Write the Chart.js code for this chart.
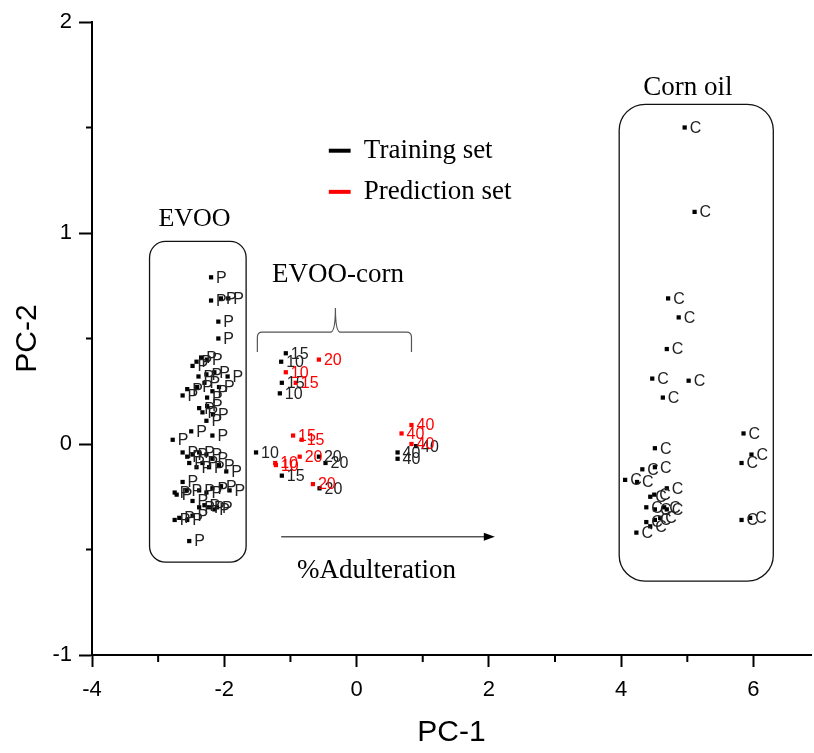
<!DOCTYPE html>
<html><head><meta charset="utf-8">
<script src="https://cdn.jsdelivr.net/npm/chart.js@4"></script>
<style>html,body{margin:0;padding:0;background:#fff}#wrap{width:814px;height:753px}</style>
</head><body><div id="wrap"><canvas id="c" width="814" height="753"></canvas></div>
<script>
// EVOO samples (label "P")
const evooX = [-2.20,-2.20,-2.05,-1.94,-2.09,-2.09,-2.35,-2.42,-2.48,-2.26,-2.39,-2.27,-2.15,-1.95,-2.63,-2.56,-2.41,-2.30,-2.18,-2.08,-2.26,-2.38,-2.33,-2.26,-2.27,-2.17,-2.78,-2.50,-2.18,-2.63,-2.56,-2.48,-2.38,-2.27,-2.18,-2.53,-2.42,-2.33,-2.23,-2.08,-1.97,-2.63,-2.75,-2.72,-2.57,-2.38,-2.27,-2.18,-2.05,-1.92,-2.48,-2.38,-2.30,-2.23,-2.15,-2.11,-2.75,-2.68,-2.56,-2.48,-2.53];
const evooY = [0.79,0.68,0.69,0.69,0.58,0.50,0.41,0.39,0.37,0.40,0.32,0.33,0.34,0.32,0.23,0.26,0.27,0.29,0.25,0.27,0.22,0.17,0.15,0.18,0.11,0.14,0.02,0.06,0.04,-0.04,-0.06,-0.05,-0.04,-0.05,-0.07,-0.09,-0.11,-0.09,-0.11,-0.10,-0.13,-0.18,-0.23,-0.24,-0.22,-0.22,-0.23,-0.21,-0.20,-0.22,-0.27,-0.30,-0.29,-0.30,-0.31,-0.30,-0.36,-0.35,-0.36,-0.34,-0.46];
// Corn oil samples (label "C")
const cornX = [4.96,5.11,4.71,4.87,4.69,4.47,5.02,4.63,4.51,4.32,4.51,4.06,4.24,4.69,4.50,4.44,4.38,4.51,4.65,4.69,4.51,4.38,4.44,4.23,4.59,5.85,5.82,5.97,5.82,5.95];
const cornY = [1.50,1.10,0.69,0.60,0.45,0.31,0.30,0.22,-0.02,-0.12,-0.11,-0.17,-0.18,-0.21,-0.24,-0.25,-0.30,-0.31,-0.30,-0.31,-0.36,-0.37,-0.39,-0.42,-0.35,0.05,-0.09,-0.05,-0.36,-0.35];
// EVOO-corn blends, training set
const trainX = [-1.07,-1.14,-1.13,-1.16,-1.52,-1.13,-0.57,-0.47,-0.56,0.62,0.62,0.90];
const trainY = [0.43,0.39,0.29,0.24,-0.04,-0.15,-0.06,-0.09,-0.21,-0.04,-0.07,-0.01];
const trainLabels = ["15","10","15","10","10","15","20","20","20","40","40","40"];
// EVOO-corn blends, prediction set
const predX = [-0.57,-1.07,-0.92,-0.96,-0.83,-0.86,-1.23,-1.22,-0.66,0.83,0.68,0.83];
const predY = [0.40,0.34,0.29,0.04,0.02,-0.06,-0.09,-0.10,-0.19,0.09,0.05,0.00];
const predLabels = ["20","10","15","15","15","20","10","10","20","40","40","40"];
// Axis ticks
const xTickLabels = [-4,-2,0,2,4,6];
const xMinorTicks = [-3,-1,1,3,5];
const yTickLabels = [-1,0,1,2];
const yMinorTicks = [-0.5,0.5,1.5];

const toPts = (xs, ys) => xs.map((x, i) => ({x, y: ys[i]}));
const SANS = "'Liberation Sans', Arial, sans-serif";
const SERIF = "'Liberation Serif', 'Times New Roman', serif";

const labelPlugin = {
  id: 'ptlabels',
  afterDatasetsDraw(chart) {
    const ctx = chart.ctx;
    ctx.save();
    ctx.font = "16px " + SANS;
    ctx.textBaseline = 'middle';
    ctx.textAlign = 'left';
    chart.data.datasets.forEach((ds, di) => {
      const meta = chart.getDatasetMeta(di);
      ctx.fillStyle = ds.labelColor;
      meta.data.forEach((el, i) => {
        ctx.fillText(ds.pointLabels[i], el.x + 5, el.y + 1);
      });
    });
    ctx.restore();
  }
};

const annoPlugin = {
  id: 'anno',
  afterDraw(chart) {
    const ctx = chart.ctx, xs = chart.scales.x, ys = chart.scales.y;
    const X = v => xs.getPixelForValue(v), Y = v => ys.getPixelForValue(v);
    ctx.save();
    // minor ticks
    ctx.strokeStyle = '#000'; ctx.lineWidth = 2;
    xMinorTicks.forEach(v => { ctx.beginPath(); ctx.moveTo(X(v), chart.chartArea.bottom); ctx.lineTo(X(v), chart.chartArea.bottom + 7); ctx.stroke(); });
    yMinorTicks.forEach(v => { ctx.beginPath(); ctx.moveTo(chart.chartArea.left, Y(v)); ctx.lineTo(chart.chartArea.left - 6, Y(v)); ctx.stroke(); });
    // rounded boxes
    const rbox = (x0, y0, x1, y1, r) => {
      const l = X(x0), rr = X(x1), t = Y(y0), b = Y(y1);
      ctx.beginPath(); ctx.roundRect(l, t, rr - l, b - t, r); ctx.stroke();
    };
    ctx.strokeStyle = '#111'; ctx.lineWidth = 1.3;
    rbox(-3.13, 0.96, -1.67, -0.56, 16);
    rbox(3.97, 1.61, 6.30, -0.65, 26);
    // brace
    ctx.strokeStyle = '#555'; ctx.lineWidth = 1.2;
    const bl = X(-1.50), br = X(0.83), bm = X(-0.32), by = Y(0.53), be = Y(0.436), bt = Y(0.645);
    ctx.beginPath();
    ctx.moveTo(bl, be); ctx.lineTo(bl, by + 5); ctx.quadraticCurveTo(bl, by, bl + 5, by);
    ctx.lineTo(bm - 5, by); ctx.quadraticCurveTo(bm, by, bm, bt);
    ctx.quadraticCurveTo(bm, by, bm + 5, by);
    ctx.lineTo(br - 5, by); ctx.quadraticCurveTo(br, by, br, by + 5); ctx.lineTo(br, be);
    ctx.stroke();
    // arrow
    ctx.strokeStyle = '#000'; ctx.fillStyle = '#000'; ctx.lineWidth = 1;
    const ay = Y(-0.44), ax0 = X(-1.14), ax1 = X(2.09);
    ctx.beginPath(); ctx.moveTo(ax0, ay); ctx.lineTo(ax1 - 8, ay); ctx.stroke();
    ctx.beginPath(); ctx.moveTo(ax1, ay); ctx.lineTo(ax1 - 11, ay - 4); ctx.lineTo(ax1 - 11, ay + 4); ctx.closePath(); ctx.fill();
    // texts
    ctx.textBaseline = 'middle'; ctx.fillStyle = '#000';
    ctx.textAlign = 'center';
    ctx.font = "26px " + SERIF;
    ctx.fillText('EVOO', X(-2.45), Y(1.065));
    ctx.font = "27px " + SERIF;
    ctx.fillText('Corn oil', X(5.01), Y(1.69));
    ctx.fillText('EVOO-corn', X(-0.28), Y(0.80));
    ctx.fillText('%Adulteration', X(0.30), Y(-0.60));
    // legend
    ctx.textAlign = 'left';
    ctx.lineWidth = 4;
    ctx.strokeStyle = '#000'; ctx.beginPath(); ctx.moveTo(X(-0.42), Y(1.39)); ctx.lineTo(X(-0.09), Y(1.39)); ctx.stroke();
    ctx.strokeStyle = '#ff0000'; ctx.beginPath(); ctx.moveTo(X(-0.42), Y(1.195)); ctx.lineTo(X(-0.09), Y(1.195)); ctx.stroke();
    ctx.fillText('Training set', X(0.11), Y(1.39));
    ctx.fillText('Prediction set', X(0.11), Y(1.195));
    ctx.restore();
  }
};

const mk = (label, xs, ys, labels, color, labelColor) => ({
  label, data: toPts(xs, ys), pointLabels: labels, labelColor,
  pointStyle: 'rect', pointRadius: 3, pointHoverRadius: 3,
  backgroundColor: color, borderColor: color, borderWidth: 0
});

new Chart(document.getElementById('c'), {
  type: 'scatter',
  data: { datasets: [
    mk('EVOO', evooX, evooY, evooX.map(() => 'P'), '#000', '#222'),
    mk('Corn oil', cornX, cornY, cornX.map(() => 'C'), '#000', '#222'),
    mk('Training set', trainX, trainY, trainLabels, '#000', '#222'),
    mk('Prediction set', predX, predY, predLabels, '#ff0000', '#ff0000')
  ]},
  options: {
    responsive: false, animation: false, devicePixelRatio: 1,
    layout: { padding: { top: 22, right: 0, left: 0, bottom: 0 } },
    plugins: { legend: { display: false }, tooltip: { enabled: false } },
    scales: {
      x: {
        type: 'linear', min: -4, max: 6.87,
        afterBuildTicks: s => { s.ticks = xTickLabels.map(v => ({value: v})); },
        afterFit: s => { s.height = 98; },
        grid: { drawOnChartArea: false, tickLength: 12, tickWidth: 2, tickColor: '#000' },
        border: { color: '#000', width: 2 },
        ticks: { color: '#000', font: { size: 22, family: SANS }, padding: 10, maxRotation: 0, autoSkip: false },
        title: { display: true, text: 'PC-1', color: '#000', font: { size: 30, family: SANS }, padding: { top: 0, bottom: 2 } }
      },
      y: {
        type: 'linear', min: -1, max: 2,
        afterBuildTicks: s => { s.ticks = yTickLabels.map(v => ({value: v})); },
        afterFit: s => { s.width = 92; },
        grid: { drawOnChartArea: false, tickLength: 13, tickWidth: 2, tickColor: '#000' },
        border: { color: '#000', width: 2 },
        ticks: { color: '#000', font: { size: 22, family: SANS }, padding: 7, autoSkip: false },
        title: { display: true, text: 'PC-2', color: '#000', font: { size: 30, family: SANS }, padding: { top: 10, bottom: 0 } }
      }
    }
  },
  plugins: [labelPlugin, annoPlugin]
});
</script></body></html>
